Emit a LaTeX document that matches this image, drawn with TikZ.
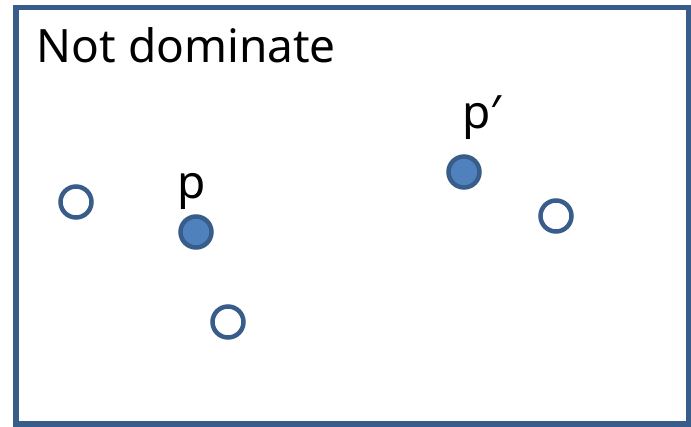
\documentclass[tikz,border=0pt]{standalone}
\usepackage{fontspec}
\setmainfont{Noto Sans}
\usepackage{tikz}
\usetikzlibrary{
    positioning
}
\definecolor{FrameBlue}{RGB}{56,93,138}
\definecolor{DotBlue}{RGB}{79,129,189}

\begin{document}
\begin{tikzpicture}[
    x=1pt, y=-1pt,
    frame/.style={draw=FrameBlue, line width=5.5pt},
    hollow/.style={circle, draw=FrameBlue, line width=4.5pt, fill=white, minimum size=31pt, inner sep=0pt},
    solid/.style={hollow, fill=DotBlue},
    lbl/.style={font=\fontsize{46}{46}\selectfont, inner sep=0pt, anchor=base west},
]
\useasboundingbox (0,0) rectangle (691,426);
\draw[frame] (16,7.5) rectangle (688.5,424);

\node[lbl] (title) at (36.5,62.5) {Not dominate};

% points
\node[hollow] (q1) at (76,202) {};
\node[solid] (p) at (196,232) {};
\node[hollow] (q2) at (228,322) {};
\node[solid] (pp) at (464,172) {};
\node[hollow] (q3) at (556,216) {};

% labels
\node[lbl] (plbl) at (177,198) {p};
\node[lbl] (pplbl) at (462,128) {p′};
\end{tikzpicture}
\end{document}
